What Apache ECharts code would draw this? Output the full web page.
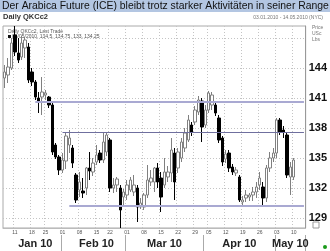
<!DOCTYPE html>
<html><head><meta charset="utf-8">
<script src="https://cdn.jsdelivr.net/npm/echarts@6/dist/echarts.min.js"></script>
<style>html,body{margin:0;padding:0;background:#fff}#c{width:330px;height:251px}</style>
</head><body><div id="c"></div>
<script>
// trading days (Jan 6 2010 - May 13 2010)
const janDays = [6,7,8,11,12,13,14,15,19,20,21,22,25,26,27,28,29];
const febDays = [1,2,3,4,5,8,9,10,11,12,16,17,18,19,22,23,24,25,26];
const marDays = [1,2,3,4,5,8,9,10,11,12,15,16,17,18,19,22,23,24,25,26,29,30,31];
const aprDays = [1,5,6,7,8,9,12,13,14,15,16,19,20,21,22,23,26,27,28,29,30];
const mayDays = [3,4,5,6,7,10,11,12,13];

const opens  = [143.0,143.3,144.0,147.3,145.5,145.1,146.0,146.1,143.6,142.6,141.0,141.1,141.3,141.1,140.3,136.3,135.1,133.8,134.7,136.3,
                136.0,133.3,131.8,131.7,132.0,134.0,133.6,134.6,135.5,134.8,135.6,136.8,132.0,132.3,132.0,131.1,131.3,131.8,131.6,132.0,
                130.1,130.1,131.3,132.6,132.6,134.0,133.0,132.3,133.1,133.5,135.5,134.0,135.0,136.0,136.8,138.3,138.6,139.6,140.7,138.3,
                139.8,140.3,140.3,139.0,137.0,134.9,135.5,134.1,133.5,133.1,130.6,131.0,131.1,131.3,131.6,132.3,132.1,131.0,134.0,135.0,
                135.5,138.8,137.8,137.3,133.1,133.1];
const closes = [143.6,144.1,146.5,145.6,144.8,146.5,146.8,142.8,142.6,141.1,140.6,141.6,141.5,140.3,135.6,135.1,133.8,134.8,137.2,137.0,
                134.5,130.8,132.6,131.5,134.0,133.7,134.5,135.3,134.8,136.6,137.3,132.0,132.3,132.9,129.8,131.6,132.3,132.8,132.3,130.1,
                130.5,131.3,132.8,133.0,134.0,132.6,131.1,133.6,133.6,135.8,132.6,135.6,136.6,137.5,138.8,137.6,139.8,140.8,138.1,139.8,
                141.5,141.3,139.5,136.8,134.6,135.4,134.0,133.6,133.8,130.8,130.8,131.3,131.3,131.6,132.1,133.0,131.0,134.0,135.0,135.5,
                138.8,137.6,137.6,133.3,134.1,134.8];
const lows   = [142.0,142.5,143.8,145.2,144.5,144.8,145.0,142.5,142.2,140.8,139.5,139.3,140.8,140.0,135.3,134.9,133.3,133.5,133.9,135.5,
                134.0,130.5,131.1,131.0,131.3,132.8,133.2,134.3,134.5,134.5,135.2,131.6,131.5,131.6,128.0,130.3,130.8,131.6,131.2,128.6,
                129.9,129.8,131.0,132.2,131.6,132.0,129.6,132.0,132.6,132.6,130.8,133.5,134.6,135.6,136.6,137.2,138.3,139.3,136.6,138.0,
                139.5,139.8,139.2,136.5,134.2,134.5,133.6,133.3,133.2,130.6,130.3,130.6,130.7,130.7,131.0,131.8,130.3,130.6,133.6,134.6,
                135.0,137.3,137.0,133.0,131.3,132.8];
const highs  = [144.3,145.0,147.0,148.2,147.0,147.2,147.1,146.5,144.0,142.8,141.6,143.1,141.8,141.2,140.5,136.5,135.3,135.5,137.5,137.8,
                136.3,133.5,133.6,133.0,134.1,135.6,135.0,136.3,135.8,137.5,137.6,137.0,133.0,133.1,132.3,131.9,132.8,133.1,133.3,132.3,
                131.0,131.5,134.3,133.8,134.1,134.5,133.6,135.0,134.2,137.0,136.0,136.0,137.0,138.0,139.3,138.6,140.2,141.2,141.0,140.3,
                141.7,141.6,140.6,139.3,137.2,135.8,135.8,134.4,134.1,133.3,131.2,131.8,131.5,132.1,132.6,133.6,132.6,134.3,135.6,136.0,
                139.0,139.0,138.2,137.5,134.6,135.0];

// horizontal range lines
const levelValues = [140.6, 137.6, 130.2];
const levelStarts = ['2010-01-20', '2010-02-01', '2010-02-03'];

// axis text
const gridValues = [129,132,135,138,141,144,147];
const yLabelValues = [129,132,135,138,141,144];
const weekTickDates = ['2010-01-11','2010-01-19','2010-01-25','2010-02-01','2010-02-08','2010-02-16','2010-02-22','2010-03-01','2010-03-08',
  '2010-03-15','2010-03-22','2010-03-29','2010-04-05','2010-04-12','2010-04-19','2010-04-26','2010-05-03','2010-05-10'];
const weekTickLabels = ['11','18','25','01','08','15','22','01','08','15','22','29','05','12','19','26','03','10'];
const monthLabels = ['Jan 10','Feb 10','Mar 10','Apr 10','May 10'];
const monthLabelDates = ['2010-01-20','2010-02-16','2010-03-16','2010-04-16','2010-05-07'];
const monthStartDates = ['2010-02-01','2010-03-01','2010-04-01','2010-05-03'];

const pad = n => (n < 10 ? '0' : '') + n;
const dates = [];
[[1,janDays],[2,febDays],[3,marDays],[4,aprDays],[5,mayDays]].forEach(([m, ds]) => ds.forEach(d => dates.push('2010-' + pad(m) + '-' + pad(d))));
const ohlc = opens.map((o, i) => [o, closes[i], lows[i], highs[i]]);

const NARROW = '"Liberation Sans Narrow", "Liberation Sans", Arial, sans-serif';
const SANS = '"Liberation Sans", Arial, sans-serif';

const chart = echarts.init(document.getElementById('c'), null, {renderer: 'canvas'});
chart.setOption({
  animation: false,
  backgroundColor: '#ffffff',
  title: {
    text: 'Der Arabica Future (ICE) bleibt trotz starker Aktivitäten in seiner Range',
    left: 2, top: 0, padding: 0,
    textStyle: {fontSize: 10.4, fontFamily: NARROW, fontWeight: 'normal', color: '#111', lineHeight: 12}
  },
  graphic: [
    {type: 'rect', z: -10, shape: {x: 0, y: 0, width: 330, height: 12}, style: {fill: '#b3c6e2'}},
    {type: 'text', left: 3, top: 13, style: {text: 'Daily QKCc2', font: 'bold 7.5px ' + SANS, fill: '#333'}},
    {type: 'text', right: 7, top: 15, style: {text: '03.01.2010 - 14.05.2010 (NYC)', font: '5px ' + SANS, fill: '#777'}},
    {type: 'text', left: 8, top: 29, style: {text: 'Daily QKCc2, Last Trade', font: '5px ' + SANS, fill: '#555'}},
    {type: 'rect', shape: {x: 8, y: 35, width: 3, height: 3}, style: {fill: '#111'}},
    {type: 'text', left: 12, top: 34.5, style: {text: '06/05/2010, 134.5, 134.75, 133, 134.25', font: '5px ' + SANS, fill: '#555'}},
    {type: 'text', left: 312, top: 25, style: {text: 'Price\nUSc\nLbs', font: '5px ' + SANS, fill: '#777', lineHeight: 6}},
    {type: 'rect', shape: {x: 313, y: 222, width: 6, height: 6}, style: {fill: '#fff', stroke: '#999', lineWidth: 1}},
    {type: 'circle', shape: {cx: 325, cy: 247, r: 2}, style: {fill: '#1a9a1a'}}
  ],
  grid: {left: 3, right: 21, top: 26, bottom: 23, show: true, borderColor: '#aaa', borderWidth: 1, backgroundColor: 'transparent'},
  xAxis: [
    {
      type: 'category', data: dates, boundaryGap: true, position: 'bottom',
      axisLine: {show: true, lineStyle: {color: '#bbb'}},
      axisTick: {show: false},
      axisLabel: {
        interval: (i, v) => weekTickDates.includes(v),
        formatter: v => { const k = weekTickDates.indexOf(v); return k >= 0 ? weekTickLabels[k] : ''; },
        fontSize: 5, color: '#555', margin: 2, fontFamily: SANS
      },
      splitLine: {show: true, interval: (i, v) => weekTickDates.includes(v), lineStyle: {color: '#c4c4c4', type: [1, 2], width: 1}}
    },
    {
      type: 'category', data: dates, boundaryGap: true, position: 'bottom', offset: 7,
      axisLine: {show: false},
      axisTick: {show: true, interval: (i, v) => monthStartDates.includes(v), length: 17, lineStyle: {color: '#aaa', width: 1}},
      axisLabel: {
        interval: (i, v) => monthLabelDates.includes(v),
        formatter: v => { const k = monthLabelDates.indexOf(v); return k >= 0 ? monthLabels[k] : ''; },
        fontSize: 11, fontWeight: 'bold', color: '#222', margin: 3, fontFamily: NARROW
      },
      splitLine: {show: false}
    }
  ],
  yAxis: {
    type: 'value', position: 'right', min: 128, max: 148.2, interval: 0.2, scale: true,
    axisLine: {show: true, lineStyle: {color: '#999'}},
    axisTick: {show: false},
    splitLine: {show: false},
    axisLabel: {
      formatter: v => { const r = Math.round(v); return (Math.abs(v - r) < 1e-6 && yLabelValues.includes(r)) ? String(r) : ''; },
      fontSize: 11, fontWeight: 'bold', color: '#111', margin: 3, fontFamily: NARROW
    }
  },
  series: [
    {
      type: 'candlestick', data: ohlc, barWidth: 3,
      itemStyle: {color: '#ffffff', color0: '#000000', borderColor: '#808080', borderColor0: '#000000', borderWidth: 1},
      markLine: {
        silent: true, symbol: 'none', z: 1, animation: false,
        label: {show: false},
        lineStyle: {color: '#c4c4c4', type: [1, 2], width: 1},
        data: gridValues.map(v => ({yAxis: v}))
      }
    },
    {
      type: 'line', data: [], silent: true,
      markLine: {
        silent: true, symbol: 'none', animation: false,
        label: {show: false},
        data: levelValues.map((v, k) => [
          {coord: [levelStarts[k], v], lineStyle: {color: k === 1 ? '#6f6f9e' : '#a9a9d2', width: k === 1 ? 1.2 : 2, type: 'solid'}},
          {coord: [dates[dates.length - 1], v]}
        ])
      }
    }
  ]
});
</script>
</body></html>
